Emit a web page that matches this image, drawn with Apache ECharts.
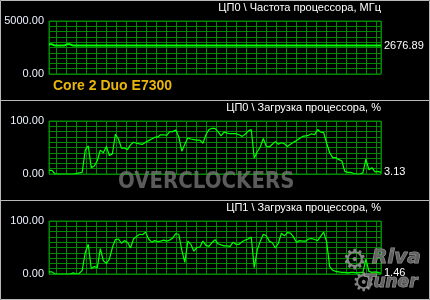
<!DOCTYPE html>
<html><head><meta charset="utf-8">
<script src="https://cdn.jsdelivr.net/npm/echarts@6/dist/echarts.min.js"></script>
<style>html,body{margin:0;padding:0;background:#000}#c{width:430px;height:300px}</style>
</head><body><div id="c"></div>
<script>
// ---- data ----
const panelTitles = [
  'ЦП0 \\ Частота процессора, МГц',
  'ЦП0 \\ Загрузка процессора, %',
  'ЦП1 \\ Загрузка процессора, %'
];
const panelMax = [5000, 100, 100];
const panelStep = [500, 10, 10];
const cpuName = 'Core 2 Duo E7300';

const freqMHz = [
  2800, 2800, 2676.89, 2676.89, 2676.89, 2676.89, 2800, 2800, 2676.89, 2676.89,
  2676.89, 2676.89, 2676.89, 2676.89, 2676.89, 2676.89, 2676.89, 2676.89, 2676.89, 2676.89,
  2676.89, 2676.89, 2676.89, 2676.89, 2676.89, 2676.89, 2676.89, 2676.89, 2676.89, 2676.89,
  2676.89, 2676.89, 2676.89, 2676.89, 2676.89, 2676.89, 2676.89, 2676.89, 2676.89, 2676.89,
  2676.89, 2676.89, 2676.89, 2676.89, 2676.89, 2676.89, 2676.89, 2676.89, 2676.89, 2676.89,
  2676.89, 2676.89, 2676.89, 2676.89, 2676.89, 2676.89, 2676.89, 2676.89, 2676.89, 2676.89,
  2676.89, 2676.89, 2676.89, 2676.89, 2676.89, 2676.89, 2676.89, 2676.89, 2676.89, 2676.89,
  2676.89, 2676.89, 2676.89, 2676.89, 2676.89, 2676.89, 2676.89, 2676.89, 2676.89, 2676.89,
  2676.89, 2676.89, 2676.89, 2676.89, 2676.89, 2676.89, 2676.89, 2676.89, 2676.89, 2676.89,
  2676.89, 2676.89, 2676.89, 2676.89, 2676.89, 2676.89, 2676.89, 2676.89, 2676.89, 2676.89,
  2676.89, 2676.89, 2676.89, 2676.89, 2676.89, 2676.89, 2676.89, 2676.89, 2676.89, 2676.89,
  2676.89
];
const cpu0Load = [
  7, 7, 0, 0, 0, 0, 0, 0, 0, 1,
  2, 3, 45, 53, 12, 15, 25, 45, 40, 52,
  35, 38, 75, 66, 49, 49, 46, 55, 60, 58,
  57, 56, 60, 63, 66, 69, 70, 74, 74, 73,
  80, 80, 83, 70, 43, 56, 68, 66, 65, 64,
  64, 58, 74, 84, 86, 86, 80, 72, 79, 77,
  76, 76, 76, 74, 71, 75, 81, 84, 30, 42,
  51, 67, 52, 51, 56, 61, 56, 59, 57, 52,
  56, 60, 63, 67, 71, 72, 73, 76, 74, 84,
  79, 78, 58, 40, 31, 31, 27, 25, 5, 3,
  3, 1, 0, 0, 2, 28, 8, 12, 4, 5, 3.13
];
const cpu1Load = [
  4, 4, 0, 0, 0, 0, 0, 0, 2, 0,
  1, 7, 40, 56, 10, 14, 12, 48, 25, 20,
  28, 50, 65, 66, 58, 63, 60, 49, 66, 71,
  75, 74, 79, 66, 60, 63, 61, 62, 64, 62,
  64, 68, 76, 75, 45, 22, 62, 56, 43, 50,
  51, 62, 54, 52, 59, 65, 57, 55, 53, 53,
  52, 60, 56, 56, 61, 64, 66, 70, 12, 45,
  62, 75, 72, 62, 59, 49, 58, 77, 72, 78,
  77, 70, 60, 63, 62, 62, 66, 67, 65, 63,
  71, 79, 60, 14, 7, 5, 4, 3, 3, 2,
  3, 3, 2, 3, 3, 28, 5, 3, 4, 3, 1.46
];
const panelData = [freqMHz, cpu0Load, cpu1Load];
const samples = cpu0Load.map((_, i) => String(i + 1));

// ---- chart ----
const GRID_GREEN = '#008a00';
const LINE_GREEN = '#00ff00';
const FONT = '"Liberation Sans", Arial, sans-serif';
const tops = [21, 121, 221];

const grid = [], xAxis = [], yAxis = [], series = [], title = [];
panelData.forEach((vals, k) => {
  grid.push({ left: 49, right: 49, top: tops[k], height: 53, show: true,
    borderColor: GRID_GREEN, borderWidth: 1, backgroundColor: 'transparent' });
  // data axis
  xAxis.push({ type: 'category', gridIndex: k, data: samples, boundaryGap: false, show: false });
  // column grid-line axis
  xAxis.push({ type: 'value', gridIndex: k, min: -7.7, max: 324.3, splitNumber: 33,
    axisLine: { show: false }, axisTick: { show: false }, axisLabel: { show: false },
    splitLine: { show: true, lineStyle: { color: GRID_GREEN, width: 1 } } });
  const mx = panelMax[k];
  yAxis.push({ type: 'value', gridIndex: k, min: 0, max: mx, interval: panelStep[k],
    axisLine: { show: false }, axisTick: { show: false },
    axisLabel: { margin: 5, color: '#eef2ff', fontSize: 11, fontFamily: FONT,
      formatter: v => (v === 0 || v === mx) ? v.toFixed(2) : '' },
    splitLine: { show: true, lineStyle: { color: GRID_GREEN, width: 1 } } });
  series.push({ type: 'line', xAxisIndex: 2 * k, yAxisIndex: k, data: vals,
    showSymbol: false, symbol: 'none', animation: false, z: 5,
    lineStyle: { color: LINE_GREEN, width: k === 0 ? 2 : 1.2 },
    endLabel: { show: true, distance: 3, color: '#ffffff', fontSize: 11, fontFamily: FONT,
      formatter: p => Number(p.value).toFixed(2) } });
  title.push({ text: panelTitles[k], right: 49, top: tops[k] - 19, padding: 0,
    textStyle: { color: '#ffffff', fontSize: 11, fontWeight: 'normal', fontFamily: FONT, lineHeight: 12 } });
});

const chart = echarts.init(document.getElementById('c'), null, { renderer: 'canvas' });
chart.setOption({
  backgroundColor: '#000000',
  animation: false,
  title, grid, xAxis, yAxis, series,
  graphic: [
    { type: 'rect', shape: { x: 0.5, y: 0.5, width: 429, height: 299 }, style: { fill: 'none', stroke: '#b8b8b8', lineWidth: 1 }, z: 50 },
    { type: 'line', shape: { x1: 0, y1: 100.5, x2: 430, y2: 100.5 }, style: { stroke: '#b8b8b8', lineWidth: 1 }, z: 50 },
    { type: 'line', shape: { x1: 0, y1: 200.5, x2: 430, y2: 200.5 }, style: { stroke: '#b8b8b8', lineWidth: 1 }, z: 50 },
    { type: 'text', x: 53, y: 86, z: 50, style: { text: cpuName, font: 'bold 14px ' + FONT, fill: '#e8b60c', verticalAlign: 'middle' } },
    { type: 'text', x: 118, y: 182, scaleX: 0.86, z: 60, style: { text: 'OVERCLOCKERS', font: 'bold 23px "DejaVu Sans"', fill: '#7a7a7a', opacity: 0.75, verticalAlign: 'middle' } },
    { type: 'text', x: 342, y: 262, z: 60, style: { text: '⚙', font: '28px "DejaVu Sans"', fill: '#9a9a9a', opacity: 0.85, verticalAlign: 'middle' } },
    { type: 'text', x: 352, y: 284, z: 60, style: { text: '⚙', font: '26px "DejaVu Sans"', fill: '#9a9a9a', opacity: 0.85, verticalAlign: 'middle' } },
    { type: 'text', x: 372, y: 258, z: 60, style: { text: 'Riva', font: 'italic bold 20px "DejaVu Sans"', fill: '#6e6e6e', stroke: '#b0b0b0', lineWidth: 1, opacity: 0.85, verticalAlign: 'middle' } },
    { type: 'text', x: 364, y: 283, z: 60, style: { text: 'Tuner', font: 'italic bold 17px "DejaVu Sans"', fill: '#6e6e6e', stroke: '#b0b0b0', lineWidth: 1, opacity: 0.85, verticalAlign: 'middle' } }
  ]
});
</script></body></html>
